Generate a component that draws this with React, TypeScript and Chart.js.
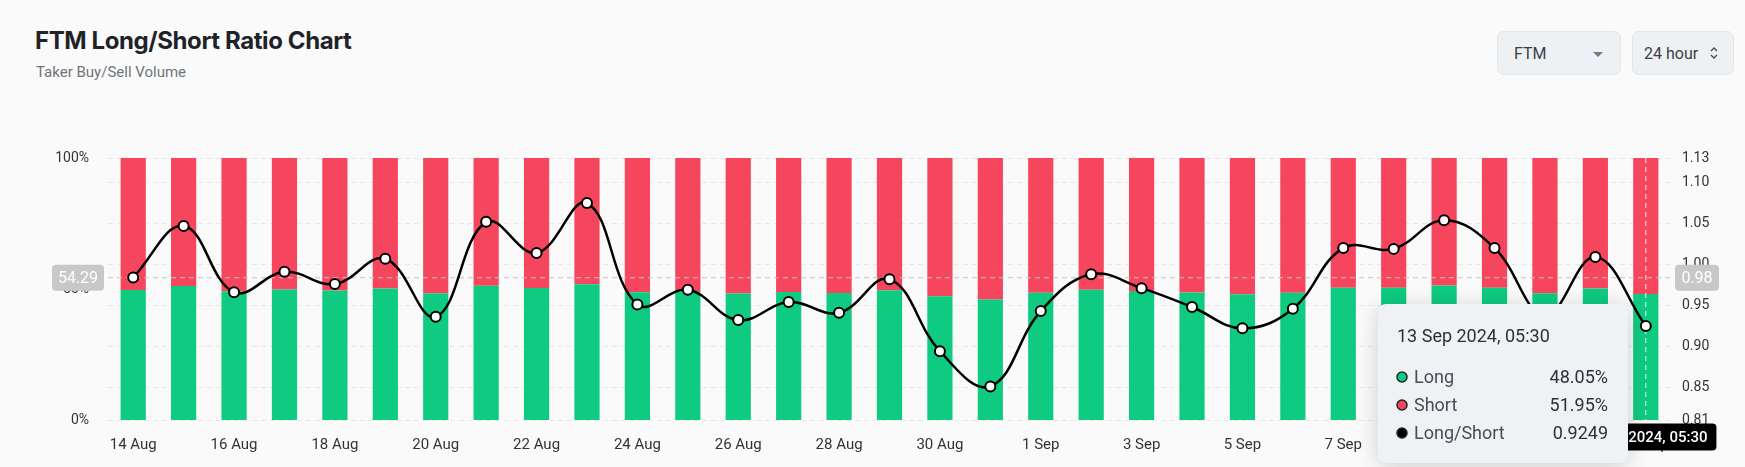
import { useEffect, useRef } from 'react';
import { Chart, registerables } from 'chart.js';

Chart.register(...registerables);

// one bar per day, 14 Aug -> 13 Sep 2024
const dates = [
  '14 Aug', '15 Aug', '16 Aug', '17 Aug', '18 Aug', '19 Aug', '20 Aug', '21 Aug', '22 Aug',
  '23 Aug', '24 Aug', '25 Aug', '26 Aug', '27 Aug', '28 Aug', '29 Aug', '30 Aug', '31 Aug',
  '1 Sep', '2 Sep', '3 Sep', '4 Sep', '5 Sep', '6 Sep', '7 Sep', '8 Sep', '9 Sep',
  '10 Sep', '11 Sep', '12 Sep', '13 Sep',
];
const longPct = [
  49.6, 51.15, 49.14, 49.77, 49.39, 50.17, 48.35, 51.27, 50.35, 51.81, 48.74,
  49.21, 48.25, 48.82, 48.48, 49.55, 47.2, 45.97, 48.53, 49.7, 49.26, 48.67,
  47.97, 48.61, 50.5, 50.48, 51.31, 50.5, 48.4, 50.22, 48.05,
];
const shortPct = [
  50.4, 48.85, 50.86, 50.23, 50.61, 49.83, 51.65, 48.73, 49.65, 48.19, 51.26,
  50.79, 51.75, 51.18, 51.52, 50.45, 52.8, 54.03, 51.47, 50.3, 50.74, 51.33,
  52.03, 51.39, 49.5, 49.52, 48.69, 49.5, 51.6, 49.78, 51.95,
];
const lsRatio = [
  0.984, 1.047, 0.966, 0.991, 0.976, 1.007, 0.936, 1.052, 1.014, 1.075, 0.951,
  0.969, 0.932, 0.954, 0.941, 0.982, 0.894, 0.851, 0.943, 0.988, 0.971, 0.948,
  0.922, 0.946, 1.02, 1.019, 1.054, 1.02, 0.938, 1.009, 0.9249,
];
const pctTicks = [0, 50, 100];
const ratioTicks = [0.81, 0.85, 0.9, 0.95, 1.0, 1.05, 1.1, 1.13];

// hovered state shown in the screenshot
const hoverIndex = 30;
const hoverTime = '2024, 05:30';
const cursorPct = 54.29;

const GREEN = '#0ecb81';
const RED = '#f6465d';
const FONT = 'Roboto, "Noto Sans", sans-serif';

function badge(ctx: CanvasRenderingContext2D, text: string, cx: number, cy: number, w: number, h: number, bg: string, fg: string, font: string) {
  ctx.save();
  ctx.fillStyle = bg;
  ctx.beginPath();
  ctx.roundRect(cx - w / 2, cy - h / 2, w, h, 4);
  ctx.fill();
  ctx.fillStyle = fg;
  ctx.font = font;
  ctx.textAlign = 'center';
  ctx.textBaseline = 'middle';
  ctx.fillText(text, cx, cy + 1);
  ctx.restore();
}

const crosshair = {
  id: 'crosshair',
  beforeDatasetDraw(chart: any, args: any) {
    if (args.meta.type !== 'line') return;
    const { ctx, chartArea: a } = chart;
    const x = chart.scales.x.getPixelForValue(hoverIndex);
    const y = chart.scales.yL.getPixelForValue(cursorPct);
    ctx.save();
    ctx.lineWidth = 1;
    ctx.setLineDash([5, 4]);
    ctx.strokeStyle = '#c4c4c4';
    ctx.beginPath();
    ctx.moveTo(a.left, y);
    ctx.lineTo(a.right, y);
    ctx.stroke();
    ctx.strokeStyle = 'rgba(255,255,255,0.9)';
    ctx.beginPath();
    ctx.moveTo(x, a.top);
    ctx.lineTo(x, a.bottom);
    ctx.stroke();
    ctx.restore();
  },
  afterDraw(chart: any) {
    const { ctx, chartArea: a } = chart;
    const x = chart.scales.x.getPixelForValue(hoverIndex);
    const y = chart.scales.yL.getPixelForValue(cursorPct);
    const r = chart.scales.yR.getValueForPixel(y);

    badge(ctx, cursorPct.toFixed(2), 78, y, 52, 26, '#c8c8c8', '#fff', `16px ${FONT}`);
    badge(ctx, r.toFixed(2), 1697, y, 44, 26, '#c8c8c8', '#fff', `16px ${FONT}`);

    const full = `${dates[hoverIndex]} ${hoverTime}`;
    ctx.save();
    ctx.font = `500 15px ${FONT}`;
    const tw = ctx.measureText(full).width + 18;
    ctx.restore();
    badge(ctx, full, x - 3, a.bottom + 17, tw, 27, '#000', '#fff', `500 15px ${FONT}`);

    // tooltip box
    const bx = 1378, by = 304, bw = 250, bh = 159;
    ctx.save();
    ctx.shadowColor = 'rgba(0,0,0,0.18)';
    ctx.shadowBlur = 22;
    ctx.shadowOffsetY = 3;
    ctx.fillStyle = '#eff2f4';
    ctx.beginPath();
    ctx.roundRect(bx, by, bw, bh, 8);
    ctx.fill();
    ctx.restore();

    ctx.save();
    ctx.textBaseline = 'middle';
    ctx.fillStyle = '#2b3139';
    ctx.font = `18px ${FONT}`;
    ctx.textAlign = 'left';
    ctx.fillText(full, bx + 19, by + 33);
    const rows = [
      { label: 'Long', value: longPct[hoverIndex].toFixed(2) + '%', color: GREEN },
      { label: 'Short', value: shortPct[hoverIndex].toFixed(2) + '%', color: RED },
      { label: 'Long/Short', value: lsRatio[hoverIndex].toFixed(4), color: '#000' },
    ];
    rows.forEach((row, i) => {
      const ry = by + 73 + i * 28;
      ctx.beginPath();
      ctx.arc(bx + 24, ry, 5, 0, Math.PI * 2);
      ctx.fillStyle = row.color;
      ctx.fill();
      ctx.lineWidth = 1.5;
      ctx.strokeStyle = '#1e2329';
      ctx.stroke();
      ctx.fillStyle = '#474d57';
      ctx.textAlign = 'left';
      ctx.fillText(row.label, bx + 36, ry + 1);
      ctx.fillStyle = '#2b3139';
      ctx.textAlign = 'right';
      ctx.fillText(row.value, bx + 230, ry + 1);
    });
    ctx.restore();
  },
};

function LongShortChart() {
  const canvasRef = useRef<HTMLCanvasElement>(null);

  useEffect(() => {
    if (!canvasRef.current) return;
    const tickFont = { family: FONT, size: 14 };
    const chart = new Chart(canvasRef.current, {
      type: 'bar',
      data: {
        labels: dates,
        datasets: [
          {
            type: 'line',
            label: 'Long/Short',
            data: lsRatio,
            yAxisID: 'yR',
            order: 0,
            borderColor: '#000',
            borderWidth: 2.5,
            tension: 0.4,
            pointRadius: 5,
            pointBorderWidth: 2,
            pointBackgroundColor: '#fff',
            pointBorderColor: '#000',
          } as any,
          {
            label: 'Long',
            data: longPct,
            yAxisID: 'yL',
            order: 1,
            backgroundColor: GREEN,
            barPercentage: 0.5,
            categoryPercentage: 1,
          },
          {
            label: 'Short',
            data: shortPct,
            yAxisID: 'yL',
            order: 2,
            backgroundColor: RED,
            barPercentage: 0.5,
            categoryPercentage: 1,
          },
        ],
      },
      options: {
        animation: false,
        responsive: false,
        maintainAspectRatio: false,
        layout: { padding: { top: 158, left: 0, right: 0, bottom: 0 } },
        plugins: { legend: { display: false }, tooltip: { enabled: false } },
        scales: {
          x: {
            stacked: true,
            grid: { display: false },
            border: { display: false },
            ticks: {
              autoSkip: false,
              maxRotation: 0,
              padding: 8,
              color: '#333',
              font: { family: FONT, size: 15 },
              callback: (_v: any, i: number) => (i % 2 === 0 ? dates[i] : ''),
            },
            afterFit: (s: any) => { s.height = 47; },
          },
          yL: {
            position: 'left',
            stacked: true,
            min: 0,
            max: 100,
            afterBuildTicks: (s: any) => { s.ticks = pctTicks.map((value) => ({ value })); },
            grid: { display: false },
            border: { display: false },
            ticks: { padding: 11, color: '#333', font: tickFont, callback: (v: any) => v + '%' },
            afterFit: (s: any) => { s.width = 108; },
          },
          yR: {
            position: 'right',
            min: 0.81,
            max: 1.13,
            afterBuildTicks: (s: any) => { s.ticks = ratioTicks.map((value) => ({ value })); },
            grid: { color: '#e8e8e8', drawTicks: false },
            border: { display: false, dash: [5, 4] },
            ticks: { padding: 11, color: '#333', font: tickFont, callback: (v: any) => Number(v).toFixed(2) },
            afterFit: (s: any) => { s.width = 74; },
          },
        },
      },
      plugins: [crosshair],
    });
    return () => { chart.destroy(); };
  }, []);

  return <canvas ref={canvasRef} width={1745} height={467} style={{ position: 'absolute', left: 0, top: 0, width: 1745, height: 467 }} />;
}

const boxStyle: any = {
  position: 'absolute',
  top: 31,
  height: 44,
  boxSizing: 'border-box',
  background: '#eef1f3',
  border: '1px solid #e2e6e9',
  borderRadius: 7,
  display: 'flex',
  alignItems: 'center',
  fontSize: 16,
  color: '#3a3f46',
};

export default function App() {
  useEffect(() => {
    document.body.style.margin = '0';
    document.body.style.background = '#fafafa';
  }, []);

  return (
    <div style={{ position: 'relative', width: 1745, height: 467, background: '#fafafa', fontFamily: FONT, overflow: 'hidden' }}>
      <div style={{ position: 'absolute', left: 35, top: 26, fontFamily: 'Inter, Roboto, sans-serif', fontSize: 24, fontWeight: 700, color: '#1e2329', letterSpacing: -0.4 }}>
        FTM Long/Short Ratio Chart
      </div>
      <div style={{ position: 'absolute', left: 36, top: 63, fontSize: 15, color: '#6f747b' }}>Taker Buy/Sell Volume</div>
      <div style={{ ...boxStyle, left: 1497, width: 124, paddingLeft: 16 }}>
        FTM
        <span style={{ position: 'absolute', right: 17, top: 20, width: 0, height: 0, borderLeft: '5px solid transparent', borderRight: '5px solid transparent', borderTop: '5px solid #707a8a' }} />
      </div>
      <div style={{ ...boxStyle, left: 1632, width: 102, paddingLeft: 11 }}>
        24 hour
        <svg width="10" height="16" viewBox="0 0 10 16" style={{ position: 'absolute', right: 14, top: 13 }}>
          <path d="M2 6 L5 3 L8 6 M2 10 L5 13 L8 10" stroke="#474d57" strokeWidth="1.4" fill="none" />
        </svg>
      </div>
      <LongShortChart />
    </div>
  );
}
